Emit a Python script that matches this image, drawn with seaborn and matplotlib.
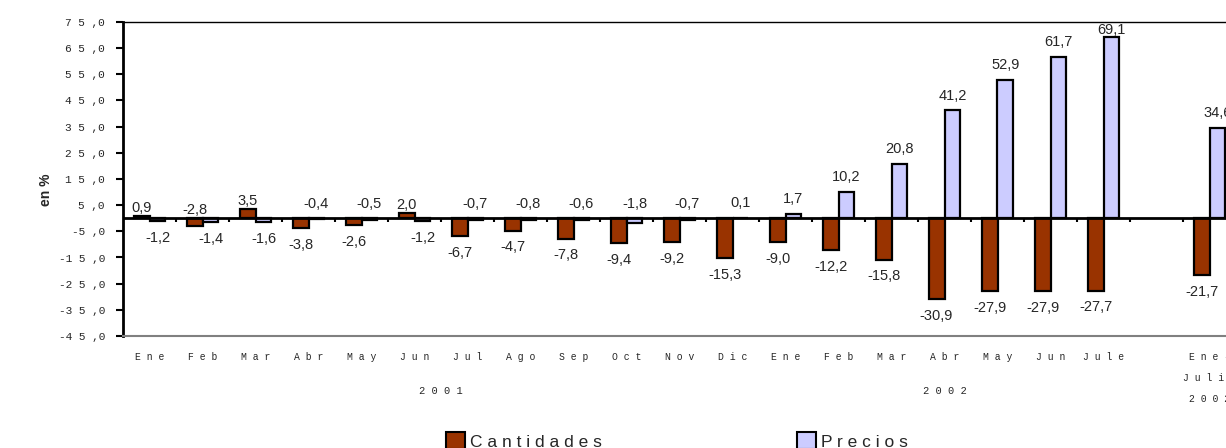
import numpy as np
import pandas as pd
import matplotlib
matplotlib.use("Agg")
import matplotlib.pyplot as plt
from matplotlib.patches import Patch
import seaborn as sns

# datos (variacion % interanual)
meses_2001 = ['Ene', 'Feb', 'Mar', 'Abr', 'May', 'Jun', 'Jul', 'Ago', 'Sep', 'Oct', 'Nov', 'Dic']
meses_2002 = ['Ene', 'Feb', 'Mar', 'Abr', 'May', 'Jun', 'Jule']
acumulado = 'Ene-Julio 2002'
cantidades = [0.9, -2.8, 3.5, -3.8, -2.6, 2.0, -6.7, -4.7, -7.8, -9.4, -9.2, -15.3,
              -9.0, -12.2, -15.8, -30.9, -27.9, -27.9, -27.7,
              -21.7]
precios = [-1.2, -1.4, -1.6, -0.4, -0.5, -1.2, -0.7, -0.8, -0.6, -1.8, -0.7, 0.1,
           1.7, 10.2, 20.8, 41.2, 52.9, 61.7, 69.1,
           34.6]
y_ticks = list(range(-45, 76, 10))
# grupos donde la etiqueta de Cantidades va arriba (y la de Precios abajo)
cant_arriba = [0, 1, 2, 5]

colores = {'Cantidades': '#993300', 'Precios': '#CCCCFF'}

periodos = ['2001 ' + m for m in meses_2001] + ['2002 ' + m for m in meses_2002] + [acumulado]
orden = periodos[:-1] + ['hueco'] + [acumulado]

df = pd.DataFrame({
    'periodo': periodos * 2,
    'serie': ['Cantidades'] * len(periodos) + ['Precios'] * len(periodos),
    'valor': cantidades + precios,
})

sns.set_style('white')
plt.rcParams['font.family'] = ['Liberation Sans', 'DejaVu Sans']

fig = plt.figure(figsize=(12.26, 4.48), dpi=100)
ax = fig.add_axes([123 / 1226, 1 - 336 / 448, (1236 - 123) / 1226, 314 / 448])

sns.barplot(data=df, x='periodo', y='valor', hue='serie', order=orden,
            hue_order=['Cantidades', 'Precios'], palette=colores, saturation=1,
            width=0.6, edgecolor='black', linewidth=1.6, legend=False, ax=ax)

ax.set_xlim(-0.5, len(orden) - 0.5)
ax.set_ylim(-45, 75)

# linea de cero y marcas entre grupos
ax.axhline(0, color='black', lw=2, zorder=3)
ax.vlines(np.arange(len(orden) - 1) + 0.5, -1.6, 0, color='black', lw=1.5, zorder=3)

# etiquetas de valores
for serie, cont in zip(['Cantidades', 'Precios'], ax.containers):
    for bar in cont:
        v = bar.get_height()
        if np.isnan(v):
            continue
        xc = bar.get_x() + bar.get_width() / 2
        idx = periodos.index(orden[int(round(xc))])
        arriba = (idx in cant_arriba) == (serie == 'Cantidades')
        txt = f'{v:.1f}'.replace('.', ',')
        if arriba:
            off = 1 if serie == 'Cantidades' else 5.5
            if v > 65:
                off = 0
            ax.annotate(txt, (xc, max(v, 0)), xytext=(0, off), textcoords='offset points',
                        ha='center', va='bottom', fontsize=10.5, annotation_clip=False)
        else:
            ax.annotate(txt, (xc, min(v, 0)), xytext=(0, -7), textcoords='offset points',
                        ha='center', va='top', fontsize=10.5, annotation_clip=False)

# ejes
ax.spines['right'].set_visible(False)
ax.spines['left'].set_color('black')
ax.spines['left'].set_linewidth(2)
ax.spines['top'].set_color('black')
ax.spines['top'].set_linewidth(1)
ax.spines['bottom'].set_color('#808080')
ax.spines['bottom'].set_linewidth(1.5)


def fmt_y(v):
    signo = '-' if v < 0 else ''
    return signo + ' '.join(str(abs(v))) + ' ,0'


ax.set_yticks(y_ticks)
ax.set_yticklabels([fmt_y(v) for v in y_ticks], family='Liberation Mono', fontsize=8)
ax.tick_params(axis='y', left=True, length=5, width=1.5, color='black', pad=8)

etiquetas_x = [' '.join(m) for m in meses_2001 + meses_2002] + ['', 'E n e -\nJ u l i o\n2 0 0 2']
ax.set_xticks(range(len(orden)))
ax.set_xticklabels(etiquetas_x, family='Liberation Mono', fontsize=7, linespacing=2.35)
ax.tick_params(axis='x', bottom=False, length=0, pad=11.5)
ax.set_xlabel('')
ax.set_ylabel('en %', fontsize=10, fontweight='bold')
ax.yaxis.set_label_coords(-0.063, 0.465)

# anios
trans = ax.get_xaxis_transform()
pos_2001 = np.mean([orden.index('2001 ' + m) for m in meses_2001])
pos_2002 = np.mean([orden.index('2002 ' + m) for m in meses_2002])
for pos, anio in [(pos_2001, '2001'), (pos_2002, '2002')]:
    ax.text(pos, -0.175, ' '.join(anio), transform=trans, ha='center', va='center',
            family='Liberation Mono', fontsize=7.5)

handles = [Patch(facecolor=colores[k], edgecolor='black', linewidth=1.5) for k in colores]
fig.legend(handles, ['C a n t i d a d e s', 'P r e c i o s'], loc='center',
           bbox_to_anchor=(677 / 1226, 1 - 441 / 448), ncol=2, frameon=False,
           fontsize=12.5, handlelength=1.1, handleheight=1.1, handletextpad=0.3,
           columnspacing=11.2)

fig.savefig('out.png', dpi=100)
